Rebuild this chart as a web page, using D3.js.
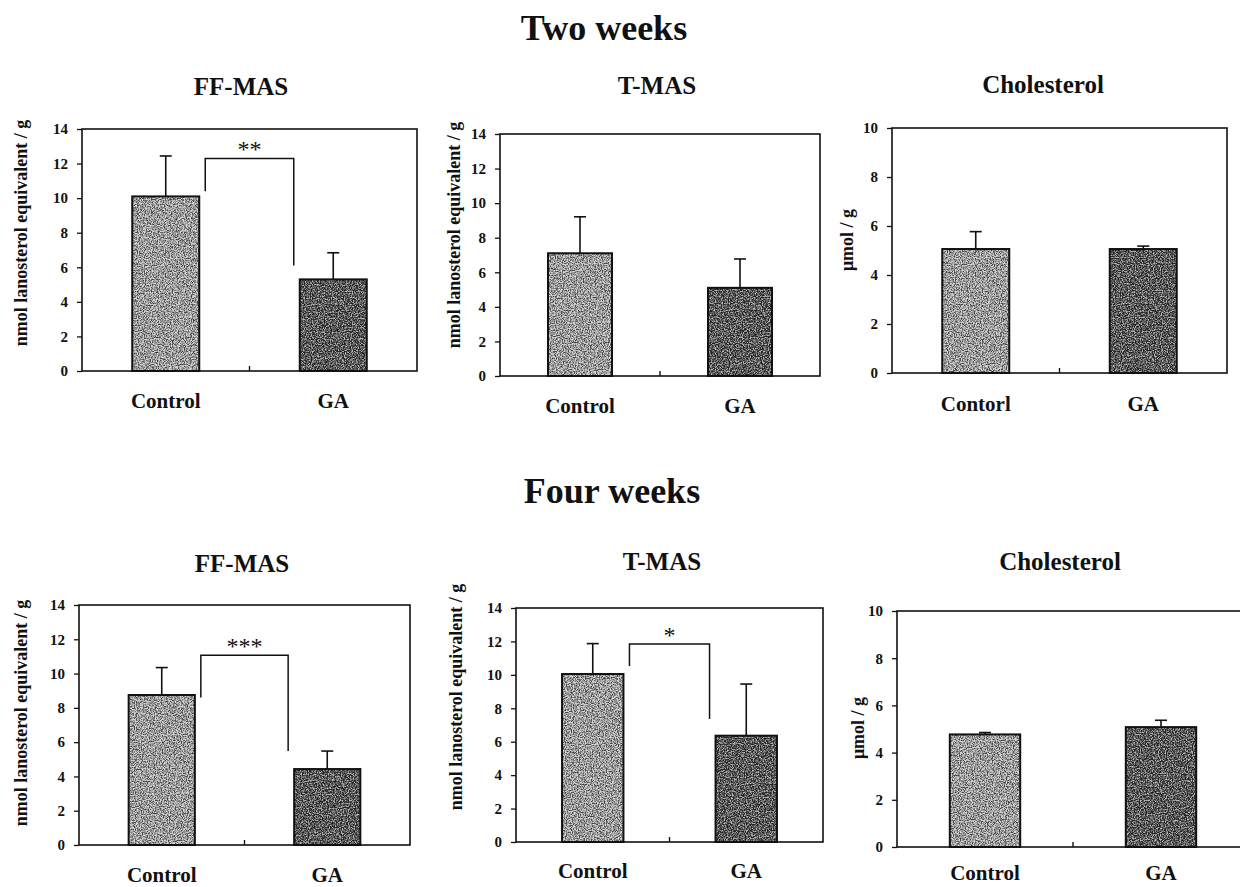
<!DOCTYPE html>
<html>
<head>
<meta charset="utf-8">
<script src="https://cdn.jsdelivr.net/npm/d3@7"></script>
<style>
  body { margin: 0; background: #fff; }
  svg { display: block; }
  text { font-family: "Liberation Serif", "Times New Roman", serif; font-weight: bold; fill: #111; }
</style>
</head>
<body>
<div class="figure"></div>
<script>
// values
const categories = ['Control', 'GA']
const sectionTitles = ['Two weeks', 'Four weeks']
const panelTitles = ['FF-MAS', 'T-MAS', 'Cholesterol', 'FF-MAS', 'T-MAS', 'Cholesterol']
const categoryLabels = [
  ['Control', 'GA'], ['Control', 'GA'], ['Contorl', 'GA'],
  ['Control', 'GA'], ['Control', 'GA'], ['Control', 'GA']
]
const yLabels = [
  'nmol lanosterol equivalent / g', 'nmol lanosterol equivalent / g', 'μmol / g',
  'nmol lanosterol equivalent / g', 'nmol lanosterol equivalent / g', 'μmol / g'
]
const yMax = [14, 14, 10, 14, 14, 10]
const means = [[10.1, 5.3], [7.1, 5.1], [5.06, 5.06], [8.75, 4.43], [10.05, 6.36], [4.77, 5.08]]
const errors = [[2.34, 1.54], [2.11, 1.67], [0.71, 0.12], [1.6, 1.05], [1.82, 3.09], [0.08, 0.29]]
// significance brackets: left leg start, top, right leg end (data units)
const brackets = [
  { panel: 0, left: 10.4, top: 12.3, right: 6.1, mark: '**' },
  { panel: 3, left: 8.6, top: 11.07, right: 5.48, mark: '***' },
  { panel: 4, left: 10.53, top: 11.85, right: 7.36, mark: '*' }
]

// layout of each panel frame in the page
const frames = [
  { x: 82, y: 129, w: 335, h: 242, title: [241, 95], ylab: [27, 233], cat: 37 },
  { x: 500, y: 134, w: 320, h: 242, title: [657, 94], ylab: [460, 235], cat: 37 },
  { x: 892, y: 128, w: 335, h: 245, title: [1043, 93], ylab: [853, 240], cat: 38 },
  { x: 79, y: 605, w: 331, h: 240, title: [242, 572], ylab: [27, 713], cat: 37 },
  { x: 516, y: 608, w: 307, h: 234, title: [662, 570], ylab: [462, 697], cat: 36 },
  { x: 897, y: 611, w: 352, h: 236, title: [1060, 570], ylab: [864, 728], cat: 33 }
]
const sectionPos = [[604, 40], [612, 503]]
const barShades = [0.62, 0.36]

document.addEventListener('DOMContentLoaded', start)

function start () {
  const svg = d3.select('.figure').append('svg')
    .attr('width', 1240)
    .attr('height', 887)
  makeGrain(svg)

  svg.selectAll('.section')
    .data(sectionTitles)
    .enter().append('text')
    .attr('class', 'section')
    .attr('x', (d, i) => sectionPos[i][0])
    .attr('y', (d, i) => sectionPos[i][1])
    .attr('text-anchor', 'middle')
    .style('font-size', '36px')
    .text(d => d)

  frames.forEach((f, i) => drawPanel(svg, f, i))
}

function makeGrain (svg) {
  const defs = svg.append('defs')
  barShades.forEach((m, i) => {
    const filt = defs.append('filter')
      .attr('id', 'grain' + i)
      .attr('x', 0).attr('y', 0).attr('width', 1).attr('height', 1)
      .attr('color-interpolation-filters', 'sRGB')
    filt.append('feTurbulence')
      .attr('type', 'fractalNoise')
      .attr('baseFrequency', 0.85)
      .attr('numOctaves', 2)
      .attr('seed', 4 + i)
      .attr('result', 'noise')
    const b = (m - 1.5).toFixed(3)
    filt.append('feColorMatrix')
      .attr('in', 'noise')
      .attr('type', 'matrix')
      .attr('values', `3 0 0 0 ${b}  3 0 0 0 ${b}  3 0 0 0 ${b}  0 0 0 0 0.6`)
      .attr('result', 'gray')
    filt.append('feComposite')
      .attr('in', 'gray').attr('in2', 'SourceAlpha')
      .attr('operator', 'in')
      .attr('result', 'speck')
    const merge = filt.append('feMerge')
    merge.append('feMergeNode').attr('in', 'SourceGraphic')
    merge.append('feMergeNode').attr('in', 'speck')
  })
}

function drawPanel (svg, f, p) {
  const g = svg.append('g').attr('transform', `translate(${f.x},${f.y})`)
  const x = d3.scaleBand()
    .domain(categories)
    .range([0, f.w])
    .paddingInner(0.6)
    .paddingOuter(0.3)
  const y = d3.scaleLinear()
    .domain([0, yMax[p]])
    .range([f.h, 0])

  const rows = categories.map((c, i) => ({ c, i, v: means[p][i], e: errors[p][i] }))

  // error bars (upward only)
  const err = g.selectAll('.err').data(rows).enter().append('g')
  err.append('line')
    .attr('x1', d => x(d.c) + x.bandwidth() / 2)
    .attr('x2', d => x(d.c) + x.bandwidth() / 2)
    .attr('y1', d => y(d.v))
    .attr('y2', d => y(d.v + d.e))
    .attr('stroke', '#111').attr('stroke-width', 1.6)
  err.append('line')
    .attr('x1', d => x(d.c) + x.bandwidth() / 2 - 6)
    .attr('x2', d => x(d.c) + x.bandwidth() / 2 + 6)
    .attr('y1', d => y(d.v + d.e))
    .attr('y2', d => y(d.v + d.e))
    .attr('stroke', '#111').attr('stroke-width', 1.6)

  // bars
  g.selectAll('.bar').data(rows).enter().append('rect')
    .attr('class', 'bar')
    .attr('x', d => x(d.c))
    .attr('y', d => y(d.v))
    .attr('width', x.bandwidth())
    .attr('height', d => y(0) - y(d.v))
    .attr('fill', d => d3.gray(barShades[d.i] * 100))
    .attr('filter', d => `url(#grain${d.i})`)
  g.selectAll('.barEdge').data(rows).enter().append('rect')
    .attr('x', d => x(d.c))
    .attr('y', d => y(d.v))
    .attr('width', x.bandwidth())
    .attr('height', d => y(0) - y(d.v))
    .attr('fill', 'none')
    .attr('stroke', '#111').attr('stroke-width', 2)

  // frame
  g.append('rect')
    .attr('width', f.w).attr('height', f.h)
    .attr('fill', 'none')
    .attr('stroke', '#111').attr('stroke-width', 1.6)
  // centre tick on the x axis
  g.append('line')
    .attr('x1', f.w / 2).attr('x2', f.w / 2)
    .attr('y1', f.h).attr('y2', f.h - 5)
    .attr('stroke', '#111').attr('stroke-width', 1.4)

  const yAxis = g.append('g')
    .call(d3.axisLeft(y).tickValues(d3.range(0, yMax[p] + 1, 2)).tickSize(5).tickSizeOuter(0).tickPadding(9))
  yAxis.select('.domain').remove()
  yAxis.selectAll('.tick line').attr('stroke', '#111').attr('stroke-width', 1.3)
  yAxis.selectAll('.tick text')
    .style('font-family', '"Liberation Serif", serif')
    .style('font-weight', 'bold')
    .style('font-size', '15px')
    .attr('fill', '#111')

  // category labels
  g.selectAll('.cat').data(rows).enter().append('text')
    .attr('x', d => x(d.c) + x.bandwidth() / 2)
    .attr('y', f.h + f.cat)
    .attr('text-anchor', 'middle')
    .style('font-size', '21px')
    .text(d => categoryLabels[p][d.i])

  // titles
  svg.append('text')
    .attr('x', f.title[0]).attr('y', f.title[1])
    .attr('text-anchor', 'middle')
    .style('font-size', '25px')
    .text(panelTitles[p])
  svg.append('text')
    .attr('transform', `translate(${f.ylab[0]},${f.ylab[1]}) rotate(-90)`)
    .attr('text-anchor', 'middle')
    .style('font-size', '18px')
    .text(yLabels[p])

  // significance bracket
  brackets.filter(b => b.panel === p).forEach(b => {
    const xl = x(categories[0]) + x.bandwidth() + 6
    const xr = x(categories[1]) - 6
    g.append('path')
      .attr('d', `M${xl},${y(b.left)}V${y(b.top)}H${xr}V${y(b.right)}`)
      .attr('fill', 'none')
      .attr('stroke', '#111').attr('stroke-width', 1.5)
    g.append('text')
      .attr('x', (xl + xr) / 2)
      .attr('y', y(b.top) - 1)
      .attr('text-anchor', 'middle')
      .style('font-size', '24px')
      .style('font-weight', 'normal')
      .text(b.mark)
  })
}
</script>
</body>
</html>
